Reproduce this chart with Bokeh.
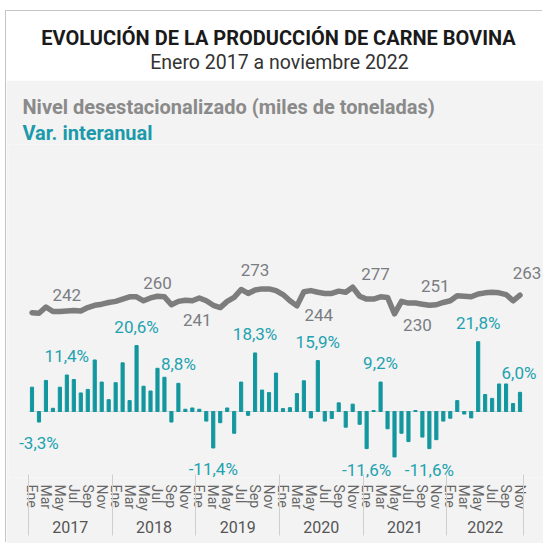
from bokeh.plotting import figure
from bokeh.models import (Range1d, ColumnDataSource, LabelSet, Label, Title,
                          LinearAxis, FixedTicker)
from bokeh.layouts import column
from bokeh.core.properties import value
from bokeh.embed import file_html
from bokeh.resources import INLINE

# ---------------- data ----------------
years = ["2017", "2018", "2019", "2020", "2021", "2022"]
month_ticks = ["Ene", "", "Mar", "", "May", "", "Jul", "", "Sep", "", "Nov", ""]
n_months = 71  # Jan 2017 .. Nov 2022

# Var. interanual (%)
var_pct = [
    7.6, -3.3, 9.7, 1.0, 7.6, 11.4, 10.0, 5.8, 6.9, 16.1, 9.2, 3.7,
    9.0, 15.2, 3.4, 20.6, 7.9, 6.4, 13.5, 10.7, -3.3, 8.8, 0.7, 1.1,
    0.7, -3.0, -11.4, -3.5, 1.1, -6.8, 9.2, -1.2, 18.3, 6.7, 5.9, 12.0,
    0.9, 1.2, 5.6, 9.6, -2.0, 15.9, -3.0, -2.2, 2.7, -4.9, 2.3, -4.0,
    -11.6, 0.3, 9.2, -5.4, -14.2, -6.8, -9.4, 0.3, -8.0, -11.6, -8.8, -3.0,
    -2.1, 3.4, -0.8, -2.0, 21.8, 5.3, 4.1, 8.6, 8.6, 2.5, 6.0,
]

# Nivel desestacionalizado (miles de toneladas)
level = [
    232, 231, 242, 234, 234, 235, 236, 235, 241, 245, 247, 250,
    252, 256, 260, 260, 253, 258, 261, 260, 246, 252, 254, 253,
    258, 253, 245, 241, 252, 259, 273, 266, 272, 274, 274, 271,
    264, 253, 244, 269, 271, 268, 266, 266, 270, 268, 277, 261,
    256, 256, 260, 259, 230, 252, 249, 249, 247, 245, 246, 250,
    253, 262, 261, 260, 265, 267, 268, 267, 264, 253, 263,
]

bar_label_idx = [1, 5, 15, 21, 26, 32, 41, 48, 50, 57, 64, 70]
line_label_idx = [5, 18, 24, 32, 41, 49, 55, 58, 70]
line_label_text = ["242", "260", "241", "273", "244", "277", "230", "251", "263"]

# ---------------- styles / layout ----------------
FONT = "Roboto"
BG = "#f3f3f3"
TEAL = "#13979f"
TEAL_TXT = "#22a2b0"
GREY_LINE = "#7d7d7d"
GREY_TXT = "#7a7d82"
line_label_dy = [16, 13, -22, 20, -23, 25, -22, 19, 22]
line_label_dx = [0, 0, -2, 0, 1, 2, 2, -1, 7]
W = 537
PAD = 2.87  # months of padding on each side of the month span

# ---------------- derived ticks ----------------
month_idx = list(range(n_months))
month_tick_pos = [i for i in month_idx if month_ticks[i % 12]]
month_overrides = {i: month_ticks[i % 12] for i in month_tick_pos}
year_first = [12 * k for k in range(len(years))]
year_last = [min(12 * k + 11, n_months - 1) for k in range(len(years))]
year_centers = [(a + b) / 2 for a, b in zip(year_first, year_last)]
year_overrides = {c: y for c, y in zip(year_centers, years)}
year_bounds = [a - 0.5 for a in year_first] + [n_months - 0.5]

src = ColumnDataSource(dict(x=month_idx, var=var_pct, lvl=level))

bl = dict(
    x=bar_label_idx,
    y=[var_pct[i] for i in bar_label_idx],
    text=[("%.1f%%" % var_pct[i]).replace(".", ",") for i in bar_label_idx],
    dy=[19 if var_pct[i] >= 0 else -21 for i in bar_label_idx],
    dx=[-1 if i == n_months - 1 else 0 for i in bar_label_idx],
)
ll = dict(
    x=line_label_idx,
    y=[level[i] for i in line_label_idx],
    text=line_label_text,
    dy=line_label_dy,
    dx=line_label_dx,
)

# ---------------- header ----------------
h = figure(width=W, height=69, x_range=Range1d(0, W), y_range=Range1d(69, 0),
           toolbar_location=None, output_backend="svg", min_border=0,
           x_axis_location=None, y_axis_location=None, title=None,
           outline_line_color=None, background_fill_color="white",
           border_fill_color="white")
h.grid.visible = False
h.add_layout(Label(x=271, y=26, text="EVOLUCIÓN DE LA PRODUCCIÓN DE CARNE BOVINA",
                   text_align="center", text_baseline="middle", text_font=FONT,
                   text_font_size="20px", text_font_style="bold", text_color="#1a1a1a"))
h.add_layout(Label(x=272, y=51, text="Enero 2017 a noviembre 2022",
                   text_align="center", text_baseline="middle", text_font=FONT,
                   text_font_size="19.5px", text_color="#333333"))

# ---------------- main ----------------
p = figure(width=W, height=463,
           x_range=Range1d(-0.5 - PAD, n_months - 0.5 + PAD),
           y_range=Range1d(-20.625, 83.4375),
           toolbar_location=None, output_backend="svg",
           x_axis_location=None, y_axis_location=None,
           min_border_left=2, min_border_right=0, min_border_top=64, min_border_bottom=66,
           background_fill_color=BG, border_fill_color=BG, outline_line_color=None)
p.extra_y_ranges = {"lvl": Range1d(-59.2, 529.1)}
p.grid.visible = False

p.title.text = "Nivel desestacionalizado (miles de toneladas)"
p.title.text_font = FONT
p.title.text_font_size = "20px"
p.title.text_font_style = "bold"
p.title.text_color = "#8a8a8a"
p.title.align = "left"
p.title.offset = 14
p.title.standoff = 0
p.add_layout(Title(text="Var. interanual", text_font=FONT,
                   text_font_size="20px", text_font_style="bold", text_color="#1a9aaa",
                   align="left", offset=14, standoff=0), "above")

# zero baseline across the month span
p.segment(x0=[-0.5], y0=[0], x1=[n_months - 0.5], y1=[0], line_color="#d2d2d2", line_width=1)

p.vbar(x="x", top="var", width=0.45, source=src, color=TEAL)
p.line(x="x", y="lvl", source=src, y_range_name="lvl", line_color=GREY_LINE,
       line_width=5.5, line_join="round", line_cap="round")

p.add_layout(LabelSet(x="x", y="y", text="text", y_offset="dy", x_offset="dx",
                      source=ColumnDataSource(bl),
                      text_align="center", text_baseline="middle", text_font=value(FONT),
                      text_font_size=value("17px"), text_color=TEAL_TXT))
p.add_layout(LabelSet(x="x", y="y", text="text", y_offset="dy", x_offset="dx",
                      source=ColumnDataSource(ll), y_range_name="lvl",
                      text_align="center", text_baseline="middle", text_font=value(FONT),
                      text_font_size=value("17px"), text_color=GREY_TXT))


def plain_axis(ticks, overrides):
    a = LinearAxis(ticker=FixedTicker(ticks=ticks, minor_ticks=[]),
                   major_label_overrides=overrides)
    a.axis_line_color = None
    a.major_tick_line_color = None
    a.minor_tick_line_color = None
    a.major_tick_out = 0
    a.major_tick_in = 0
    a.major_label_text_font = FONT
    return a


# month labels (closest to the bars)
ax_m = plain_axis(month_tick_pos, month_overrides)
ax_m.major_label_orientation = "vertical"
ax_m.major_label_text_font_size = "14px"
ax_m.major_label_text_color = "#666666"
ax_m.major_label_standoff = 7
p.add_layout(ax_m, "below")

# year labels
ax_y = plain_axis(year_centers, year_overrides)
ax_y.major_label_text_font_size = "16px"
ax_y.major_label_text_color = "#555555"
ax_y.major_label_standoff = 7
p.add_layout(ax_y, "below")

# year separators (long inward ticks reaching up through the label rows)
ax_s = LinearAxis(ticker=FixedTicker(ticks=year_bounds, minor_ticks=[]))
ax_s.axis_line_color = None
ax_s.minor_tick_line_color = None
ax_s.major_tick_out = 0
ax_s.major_tick_in = 61
ax_s.major_tick_line_color = "#cfcfcf"
ax_s.major_tick_line_width = 1
ax_s.major_label_text_color = None
p.add_layout(ax_s, "below")

layout = column(h, p, styles={"margin-left": "6px", "margin-top": "11px",
                              "box-shadow": "-1px -1px 0 0 #c4c4c4"})

open("out.html", "w").write(file_html(layout, INLINE))
